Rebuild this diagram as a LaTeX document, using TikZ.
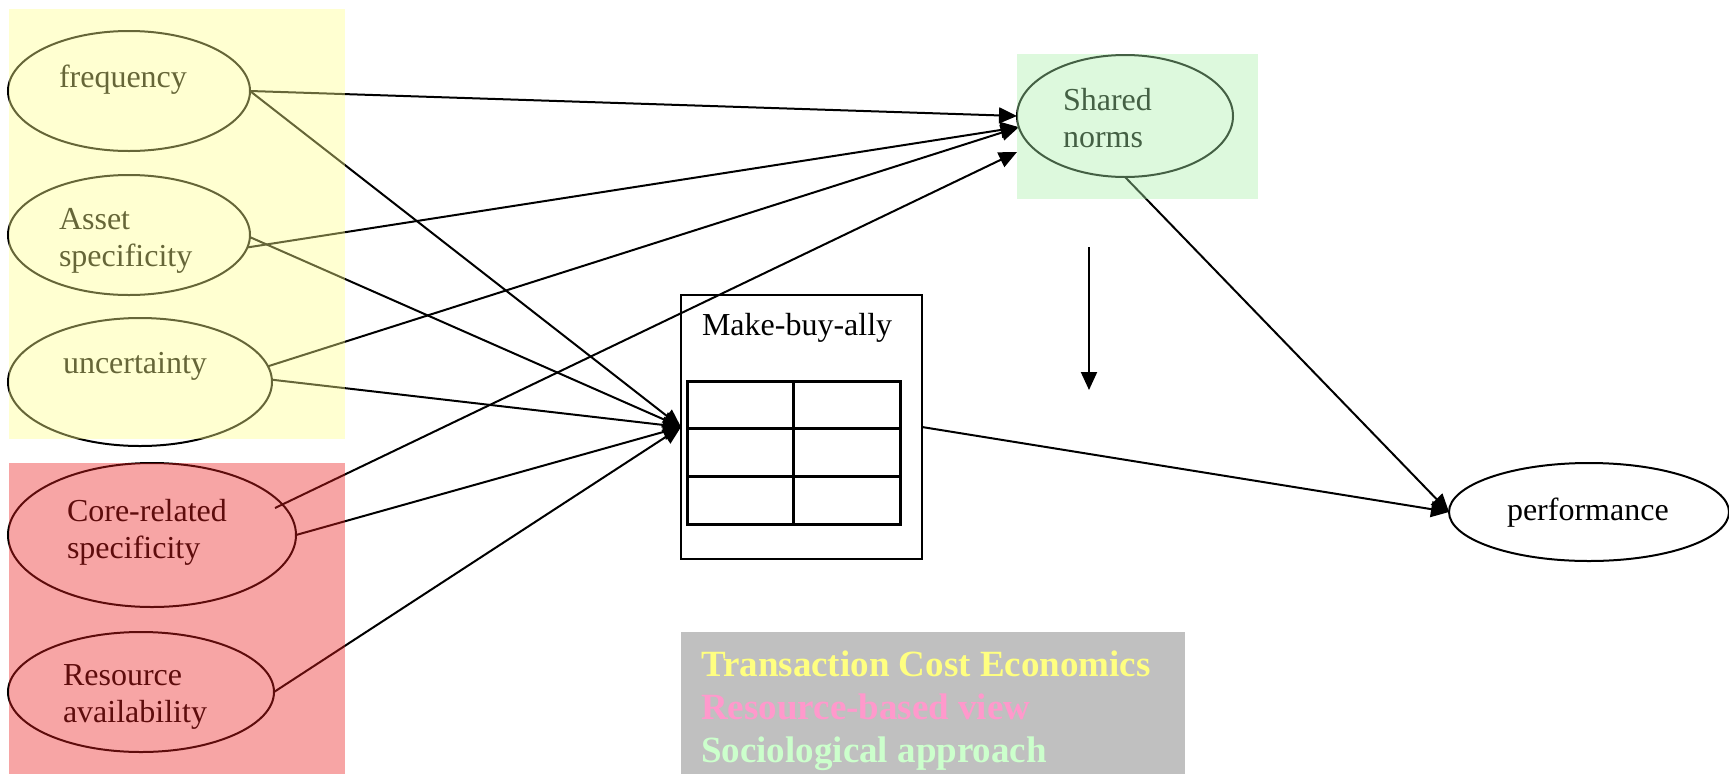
\documentclass[tikz,border=0pt]{standalone}
\usepackage{fontspec}
\setmainfont{Liberation Serif}
\usetikzlibrary{arrows.meta,shapes.geometric,calc}
\definecolor{tceC}{RGB}{255,255,140}
\definecolor{rbvC}{RGB}{235,30,30}
\definecolor{socC}{RGB}{170,240,170}
\definecolor{legendgray}{RGB}{192,192,192}
\definecolor{tceText}{RGB}{255,255,128}
\definecolor{rbvText}{RGB}{255,153,204}
\definecolor{socText}{RGB}{204,255,204}
\begin{document}
\begin{tikzpicture}[x=1pt,y=-1pt,
  oval/.style={ellipse, draw, line width=2pt, inner sep=0pt, outer sep=0pt},
  lbl/.style={anchor=base west, align=left, inner sep=0pt, outer sep=0pt, font=\fontsize{32}{37}\selectfont},
  arr/.style={line width=2pt, -{Triangle[length=18pt,width=16pt]}},
  region/.style={anchor=north west, inner sep=0pt, outer sep=0pt, draw=none, fill opacity=0.4},
  tblline/.style={line width=3pt}
]
\useasboundingbox (0,0) rectangle (1729,774);

% ovals
\node[oval, minimum width=242pt, minimum height=120pt] (freq) at (129,91) {};
\node[oval, minimum width=242pt, minimum height=120pt] (asset) at (129,235) {};
\node[oval, minimum width=264pt, minimum height=128pt] (unc) at (140,382) {};
\node[oval, minimum width=288pt, minimum height=144pt] (core) at (152,535) {};
\node[oval, minimum width=266pt, minimum height=120pt] (res) at (141,692) {};
\node[oval, minimum width=216pt, minimum height=122pt] (norms) at (1125,116) {};
\node[oval, fill=white, minimum width=280pt, minimum height=98pt] (perf) at (1589,512) {};

% labels (base = baseline of last line)
\node[lbl] (freqT) at (59,87) {frequency};
\node[lbl] (assetT) at (59,266) {Asset\\specificity};
\node[lbl] (uncT) at (63,373) {uncertainty};
\node[lbl] (coreT) at (67,558) {Core-related\\specificity};
\node[lbl] (resT) at (63,722) {Resource\\availability};
\node[lbl] (normsT) at (1063,147) {Shared\\norms};
\node[lbl] (perfT) at (1507,520) {performance};

% make-buy-ally box
\node[draw, line width=2pt, minimum width=241pt, minimum height=264pt, inner sep=0pt, outer sep=0pt] (mba) at (801.5,427) {};
\node[lbl] (mbaT) at (702,335) {Make-buy-ally};
\node[draw, tblline, minimum width=213pt, minimum height=143pt, inner sep=0pt, outer sep=0pt] (tbl) at (793.5,452.5) {};
\draw[tblline] (tbl.north) -- (tbl.south);
\draw[tblline] ($(tbl.north west)!1/3!(tbl.south west)$) -- ($(tbl.north east)!1/3!(tbl.south east)$);
\draw[tblline] ($(tbl.north west)!2/3!(tbl.south west)$) -- ($(tbl.north east)!2/3!(tbl.south east)$);

% connectors
\coordinate (coreOut) at (275,508);
\coordinate (normsIn) at (1017,152);
\coordinate (vTop) at (1089,247);
\coordinate (vBot) at (1089,390);
\draw[arr] (freq.east) -- (norms.west);
\draw[arr] (freq.east) -- (mba.west);
\draw[arr] (asset.-6) -- (norms.186);
\draw[arr] (asset.-1) -- (mba.west);
\draw[arr] (unc.7) -- (norms.186);
\draw[arr] (unc.1) -- (mba.west);
\draw[arr] (coreOut) -- (normsIn);
\draw[arr] (core.east) -- (mba.west);
\draw[arr] (res.east) -- (mba.west);
\draw[arr] (norms.south) -- (perf.west);
\draw[arr] (mba.east) -- (perf.west);
\draw[arr] (vTop) -- (vBot);

% tinted regions (drawn over)
\node[region, fill=tceC, minimum width=336pt, minimum height=430pt] (tceRegion) at (9,9) {};
\node[region, fill=rbvC, minimum width=336pt, minimum height=311pt] (rbvRegion) at (9,463) {};
\node[region, fill=socC, minimum width=241pt, minimum height=145pt] (socRegion) at (1017,54) {};

% legend
\node[anchor=north west, fill=legendgray, minimum width=504pt, minimum height=142pt, inner sep=0pt, outer sep=0pt] (legend) at (681,632) {};
\node[anchor=base west, align=left, inner sep=0pt, font=\bfseries\fontsize{37}{43}\selectfont] (legendT) at (701,762)
  {{\color{tceText}Transaction Cost Economics}\\{\color{rbvText}Resource-based view}\\{\color{socText}Sociological approach}};
\end{tikzpicture}
\end{document}
